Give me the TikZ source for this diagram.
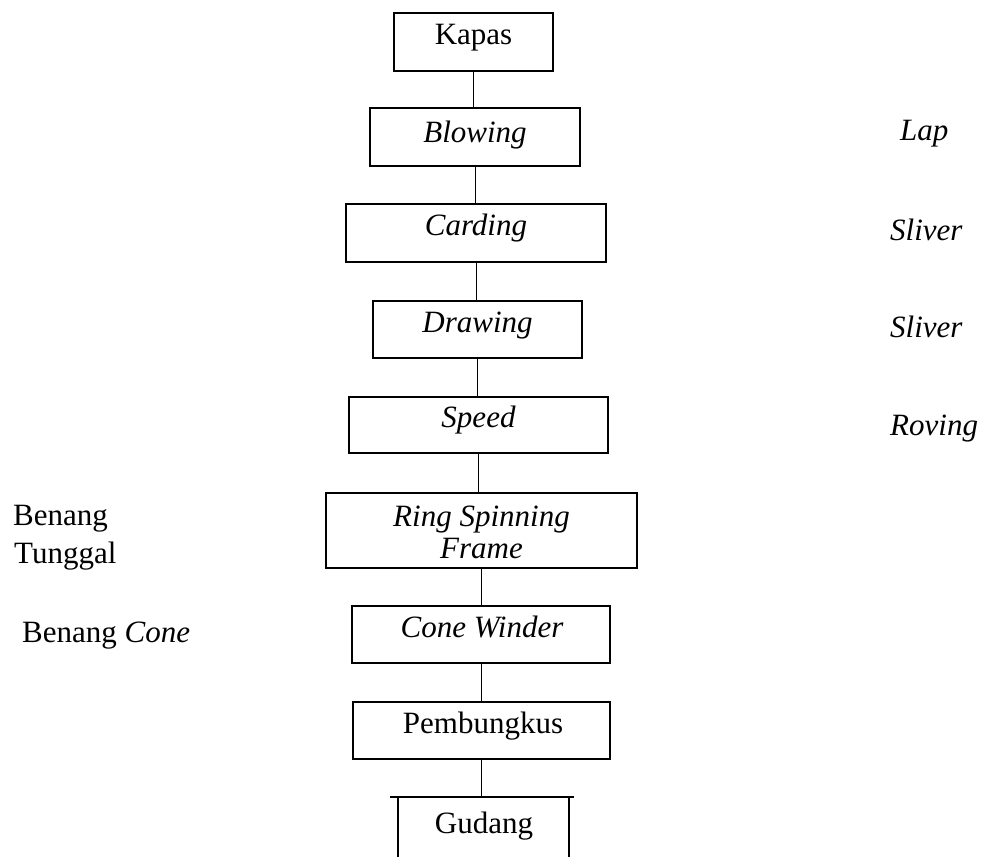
\documentclass[tikz,border=0pt]{standalone}
\usepackage{fontspec}
\setmainfont{Liberation Serif}
\begin{document}
\begin{tikzpicture}[x=1pt,y=-1pt,
  stage/.style={draw,line width=1.5pt,inner sep=0pt,outer sep=0pt},
  txt/.style={anchor=base,inner sep=0pt,font=\fontsize{31}{33}\selectfont},
  side/.style={anchor=base west,inner sep=0pt,font=\fontsize{31}{33}\selectfont},
  link/.style={line width=1pt}]
\useasboundingbox (0,0) rectangle (981,857);

% process boxes
\node[stage,minimum width=159pt,minimum height=58pt] (kapas)   at (473.5,42)   {};
\node[stage,minimum width=210pt,minimum height=58pt] (blowing) at (475,137)    {};
\node[stage,minimum width=260pt,minimum height=58pt] (carding) at (476,233)    {};
\node[stage,minimum width=209pt,minimum height=57pt] (drawing) at (477.5,329.5){};
\node[stage,minimum width=259pt,minimum height=56pt] (speed)   at (478.5,425)  {};
\node[stage,minimum width=311pt,minimum height=75pt] (ring)    at (481.5,530.5){};
\node[stage,minimum width=258pt,minimum height=57pt] (cone)    at (481,634.5)  {};
\node[stage,minimum width=257pt,minimum height=57pt] (pemb)    at (481.5,730.5){};

% warehouse: open-bottom box with heavy top bar
\coordinate (gtop) at (484,797);
\coordinate (gbarL) at (390,797);
\coordinate (gbarR) at (574,797);
\coordinate (gwallL) at (398,797);
\coordinate (gwallR) at (569,797);
\coordinate (gfootL) at (398,857);
\coordinate (gfootR) at (569,857);
\draw[line width=2.6pt] (gbarL) -- (gbarR);
\draw[line width=1.5pt] (gwallL) -- (gfootL);
\draw[line width=1.5pt] (gwallR) -- (gfootR);

% box texts
\node[txt] (t-kapas)   at (473.5,44) {Kapas};
\node[txt] (t-blowing) at (475,142)  {\itshape Blowing};
\node[txt] (t-carding) at (476,235)  {\itshape Carding};
\node[txt] (t-drawing) at (477.5,332){\itshape Drawing};
\node[txt] (t-speed)   at (478.5,427){\itshape Speed};
\node[txt] (t-ring1)   at (481.5,526){\itshape Ring Spinning};
\node[txt] (t-ring2)   at (481.5,558){\itshape Frame};
\node[txt] (t-cone)    at (482,637)  {\itshape Cone Winder};
\node[txt] (t-pemb)    at (483,733)  {Pembungkus};
\node[txt] (t-gudang)  at (484,833)  {Gudang};

% products
\node[side] (lap)     at (900,140) {\itshape Lap};
\node[side] (sliver1) at (890,240) {\itshape Sliver};
\node[side] (sliver2) at (890,337) {\itshape Sliver};
\node[side] (roving)  at (890,435) {\itshape Roving};
\node[side] (benang1) at (13,525)  {Benang};
\node[side] (benang2) at (14,563)  {Tunggal};
\node[side] (benang3) at (22,642)  {Benang \textit{Cone}};

% connectors
\draw[link] (kapas.south)   -- (kapas.south |- blowing.north);
\draw[link] (blowing.south) -- (blowing.south |- carding.north);
\draw[link] (carding.south) -- (carding.south |- drawing.north);
\draw[link] (drawing.south) -- (drawing.south |- speed.north);
\draw[link] (speed.south)   -- (speed.south |- ring.north);
\draw[link] (ring.south)    -- (ring.south |- cone.north);
\draw[link] (cone.south)    -- (cone.south |- pemb.north);
\draw[link] (pemb.south)    -- (pemb.south |- gtop);
\end{tikzpicture}
\end{document}
